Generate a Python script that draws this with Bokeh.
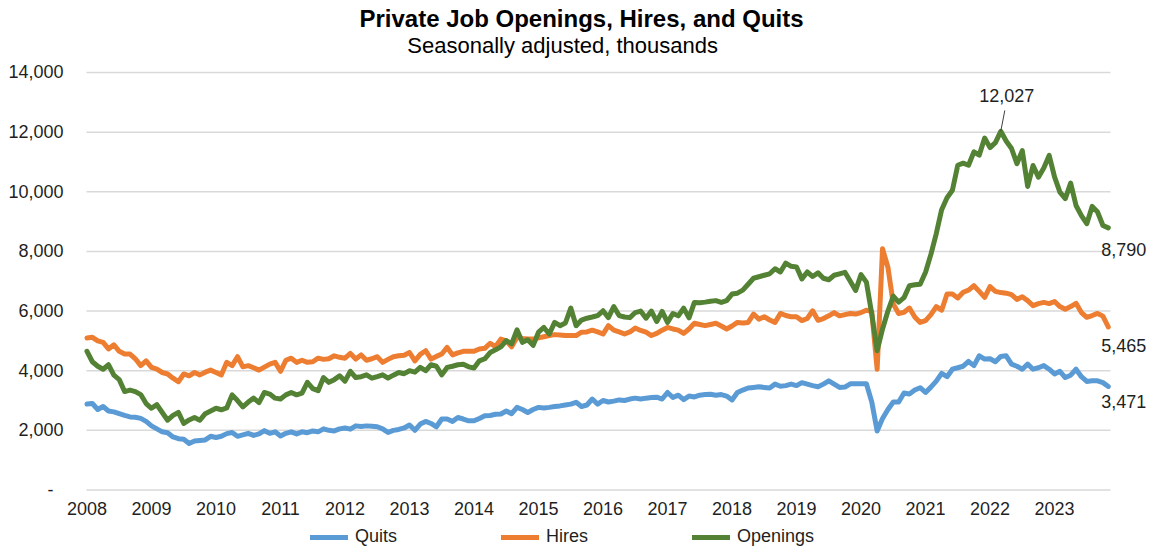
from bokeh.plotting import figure
from bokeh.models import (Range1d, FixedTicker, NumeralTickFormatter, Label,
                          Legend, LegendItem)
from bokeh.embed import file_html
from bokeh.resources import INLINE

# ---- data (thousands, seasonally adjusted, monthly Jan 2008 - Nov 2023) ----
years = [str(y) for y in range(2008, 2024)]

quits = [
    2880, 2900, 2700, 2800, 2650, 2620, 2560, 2500, 2450, 2440, 2400, 2300,
    2150, 2050, 1950, 1920, 1780, 1720, 1700, 1560, 1640, 1660, 1680, 1800,
    1760, 1800, 1890, 1930, 1800, 1850, 1900, 1830, 1880, 1990, 1900, 1950,
    1810, 1900, 1950, 1880, 1950, 1920, 1980, 1950, 2050, 2000, 1980, 2050,
    2080, 2040, 2150, 2130, 2150, 2140, 2120, 2050, 1930, 2000, 2030, 2080,
    2180, 2000, 2210, 2300, 2230, 2120, 2380, 2380, 2300, 2430, 2380, 2320,
    2320, 2400, 2490, 2500, 2540, 2550, 2650, 2560, 2770, 2700, 2600, 2700,
    2770, 2750, 2770, 2800, 2820, 2850, 2880, 2940, 2800, 2850, 3050, 2880,
    3000, 2950, 2980, 3020, 3000, 3050, 3080, 3050, 3080, 3100, 3110, 3050,
    3270, 3100, 3180, 3030, 3150, 3120, 3180, 3200, 3210, 3180, 3200, 3150,
    3020, 3270, 3350, 3420, 3440, 3460, 3440, 3420, 3550, 3480, 3500, 3550,
    3500, 3600, 3550, 3500, 3460, 3550, 3660, 3550, 3440, 3450, 3560, 3560,
    3560, 3560, 2950, 1980, 2400, 2700, 2950, 2950, 3250, 3220, 3350, 3430,
    3270, 3450, 3650, 3910, 3800, 4050, 4100, 4150, 4310, 4170, 4500, 4390,
    4400, 4300, 4480, 4500, 4220, 4150, 4050, 4220, 4050, 4100, 4170, 4050,
    3890, 3980, 3770, 3850, 4050, 3800, 3640, 3660, 3660, 3600, 3471,
]

hires = [
    5100, 5120, 5000, 4950, 4730, 4870, 4650, 4560, 4560, 4400, 4170, 4330,
    4110, 4050, 3940, 3890, 3750, 3630, 3890, 3830, 3940, 3860, 3950, 4020,
    3940, 3860, 4280, 4170, 4470, 4130, 4170, 4100, 4020, 4120, 4220, 4280,
    3980, 4350, 4420, 4280, 4350, 4280, 4300, 4420, 4380, 4400, 4500, 4450,
    4420, 4580, 4390, 4530, 4350, 4400, 4470, 4280, 4380, 4470, 4500, 4520,
    4610, 4330, 4550, 4670, 4390, 4480, 4560, 4780, 4530, 4600, 4650, 4650,
    4650, 4730, 4750, 4920, 4810, 5060, 5000, 4800, 5120, 5080, 5060, 5060,
    5100, 5140, 5180, 5210, 5200, 5180, 5180, 5180, 5290, 5300, 5360, 5300,
    5230, 5510, 5360, 5300, 5230, 5300, 5430, 5350, 5290, 5180, 5250, 5360,
    5450, 5400, 5360, 5250, 5400, 5590, 5550, 5510, 5550, 5590, 5500, 5400,
    5500, 5620, 5600, 5620, 5900, 5730, 5810, 5700, 5620, 5920, 5850, 5810,
    5810, 5680, 5750, 6010, 5690, 5750, 5840, 5950, 5840, 5880, 5920, 5900,
    5950, 6030, 5980, 4050, 8090, 7470, 6240, 5920, 5960, 6100, 5800, 5620,
    5680, 5880, 6150, 6030, 6570, 6570, 6440, 6630, 6700, 6850, 6660, 6460,
    6820, 6660, 6620, 6600, 6550, 6390, 6480, 6350, 6180, 6250, 6290, 6250,
    6320, 6150, 6060, 6150, 6260, 5950, 5790, 5850, 5920, 5830, 5465,
]

openings = [
    4650, 4300, 4150, 4050, 4200, 3850, 3700, 3300, 3350, 3300, 3200, 2900,
    2740, 2860, 2600, 2340, 2500, 2600, 2230, 2350, 2430, 2340, 2560, 2650,
    2740, 2690, 2750, 3190, 3000, 2790, 2950, 3080, 2930, 3270, 3215, 3080,
    3050, 3190, 3270, 3190, 3250, 3610, 3400, 3330, 3770, 3610, 3700, 3830,
    3650, 3980, 3770, 3800, 3860, 3750, 3800, 3860, 3750, 3850, 3940, 3900,
    4000, 3950, 4110, 4000, 4200, 4150, 3860, 4110, 4150, 4200, 4220, 4130,
    4090, 4330, 4400, 4610, 4700, 4800, 5010, 4900, 5370, 4950, 5040, 4850,
    5290, 5450, 5230, 5620, 5510, 5600, 6100, 5510, 5700, 5760, 5800, 5850,
    6010, 5780, 6150, 5850, 5800, 5780, 5950, 6000, 5760, 6000, 5650, 5990,
    5620, 5920, 5840, 6100, 5770, 6290, 6280, 6300, 6330, 6350, 6290, 6350,
    6570, 6600, 6700, 6900, 7100, 7150, 7200, 7250, 7420, 7310, 7610, 7500,
    7480, 7080, 7310, 7160, 7280, 7100, 7050, 7200, 7250, 7300, 7000, 6690,
    7220, 6970, 5900, 4670, 5400, 6000, 6500, 6300, 6450, 6850, 6880, 6900,
    7300, 7900, 8600, 9400, 9800, 10050, 10890, 10960, 10890, 11340, 11230, 11800,
    11480, 11650, 12027, 11700, 11450, 10940, 11380, 10180, 10880, 10490, 10800, 11220,
    10500, 9990, 9770, 10290, 9540, 9200, 8930, 9510, 9320, 8870, 8790,
]

series_names = ["Quits", "Hires", "Openings"]
y_ticks = [0, 2000, 4000, 6000, 8000, 10000, 12000, 14000]

months = list(range(len(quits)))
year_ticks = [12 * i for i in range(len(years))]

FONT = "Liberation Sans"
TXT = "#1f1f1f"
colors = {"Quits": "#5b9bd5", "Hires": "#ed7d31", "Openings": "#548235"}

# The frame covers the whole canvas right of the value-axis labels so that the
# titles, end labels, year labels and legend are not clipped.
X_FRAME_START, X_GRID_START, X_GRID_END = -4.37, -0.093, 190.4
p = figure(width=1161, height=550,
           x_range=Range1d(X_FRAME_START, 199.9), y_range=Range1d(-2029, 16414),
           min_border_left=63, min_border_right=0,
           min_border_top=0, min_border_bottom=0,
           output_backend="svg", toolbar_location=None)
p.outline_line_color = None
p.background_fill_color = "white"
p.border_fill_color = "white"

# axes
p.xaxis.fixed_location = 0
p.xaxis.ticker = FixedTicker(ticks=year_ticks)
p.xaxis.major_label_overrides = {t: y for t, y in zip(year_ticks, years)}
p.yaxis.ticker = FixedTicker(ticks=y_ticks)
p.yaxis.formatter = NumeralTickFormatter(format="0,0")
p.yaxis.major_label_overrides = {0: "-\u00a0\u00a0"}
for ax in (p.xaxis[0], p.yaxis[0]):
    ax.axis_line_color = None
    ax.major_tick_line_color = None
    ax.minor_tick_line_color = None
    ax.major_tick_out = 0
    ax.major_tick_in = 0
    ax.major_label_text_font = FONT
    ax.major_label_text_font_size = "18px"
    ax.major_label_text_color = TXT
p.xaxis.major_label_standoff = 12
p.yaxis.major_label_standoff = 0

# horizontal gridlines limited to the plotting area
p.xgrid.grid_line_color = None
p.ygrid.grid_line_color = None
p.segment(x0=[X_GRID_START] * len(y_ticks), x1=[X_GRID_END] * len(y_ticks),
          y0=y_ticks, y1=y_ticks, line_color="#d9d9d9", line_width=1.5)

# lines
renderers = {}
for name, vals in zip(series_names, [quits, hires, openings]):
    renderers[name] = p.line(months, vals, line_color=colors[name], line_width=5,
                             line_join="round", line_cap="round")

# peak annotation
pk = max(range(len(openings)), key=lambda i: openings[i])
p.segment(x0=[pk], y0=[openings[pk]], x1=[pk + 0.75], y1=[openings[pk] + 700],
          line_color="#404040", line_width=1)
p.add_layout(Label(x=pk, y=openings[pk], x_offset=6, y_offset=36,
                   text=f"{openings[pk]:,}", text_align="center",
                   text_baseline="middle", text_font=FONT,
                   text_font_size="18px", text_color=TXT))

# end labels
last = len(quits) - 1
for vals, yoff in [(openings, -22), (hires, -18), (quits, -15)]:
    p.add_layout(Label(x=last, y=vals[last], x_offset=-7, y_offset=yoff,
                       text=f"{vals[last]:,}", text_align="left",
                       text_baseline="middle", text_font=FONT,
                       text_font_size="18px", text_color=TXT))

# titles
p.add_layout(Label(x=92.0, y=15811, text="Private Job Openings, Hires, and Quits",
                   text_align="center", text_baseline="middle", text_font=FONT,
                   text_font_style="bold", text_font_size="24px", text_color="#000000"))
p.add_layout(Label(x=88.5, y=14906, text="Seasonally adjusted, thousands",
                   text_align="center", text_baseline="middle", text_font=FONT,
                   text_font_size="22px", text_color="#000000"))

# legend at the bottom
legend = Legend(items=[LegendItem(label=n, renderers=[renderers[n]]) for n in series_names],
                location=(247, 3), orientation="horizontal", spacing=104,
                glyph_width=38, glyph_height=20, label_height=20, label_standoff=7,
                padding=0, margin=0, border_line_color=None,
                background_fill_alpha=0, label_text_font=FONT,
                label_text_font_size="18px", label_text_color=TXT)
p.add_layout(legend)

open("out.html", "w").write(file_html(p, INLINE))
